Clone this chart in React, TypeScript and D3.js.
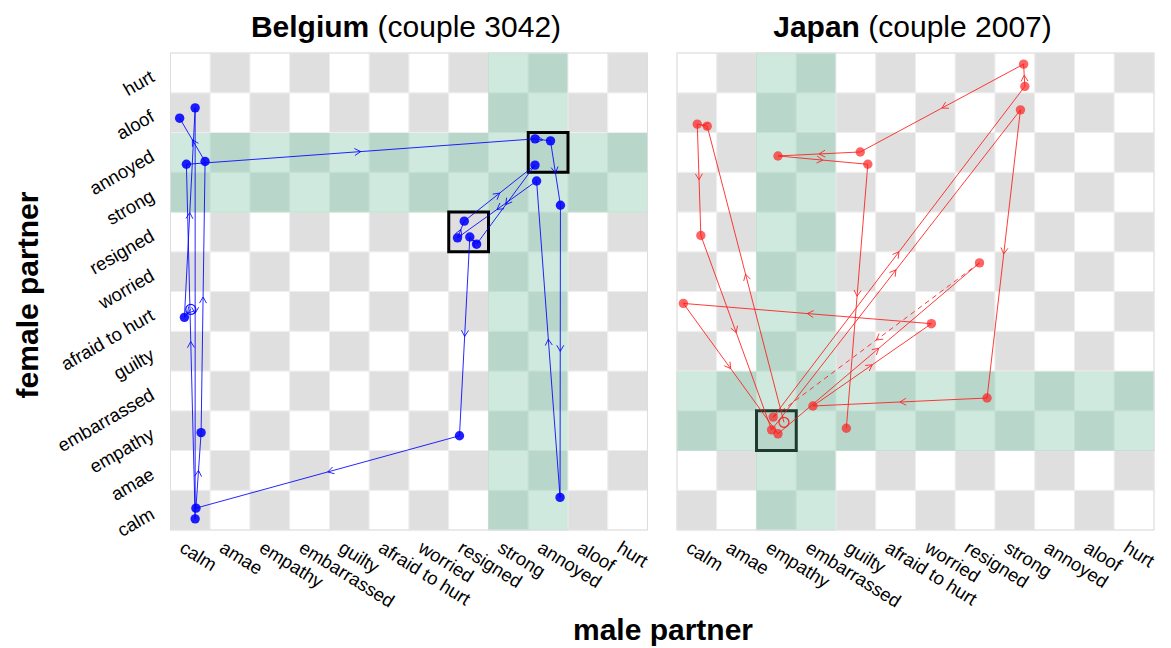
import React from 'react';
import * as d3 from 'd3';

const CATS = ['calm', 'amae', 'empathy', 'embarrassed', 'guilty', 'afraid to hurt', 'worried', 'resigned', 'strong', 'annoyed', 'aloof', 'hurt'];

// Belgium (couple 3042): trajectory of [male, female] emotion, in category units
const beMale = [0.01, -0.15, 0.12, 0.12, -0.10, 8.67, 9.06, 9.31, 9.30, 8.71, 6.72, 6.89, 8.67, 7.20, 7.03, 6.77, 0.14, 0.27, 0.37, -0.27];
const beFemale = [5.05, 4.85, 10.12, -0.22, 8.70, 9.34, 9.29, 7.67, 0.32, 8.28, 6.85, 7.27, 8.68, 6.69, 6.87, 1.87, 0.05, 1.95, 8.77, 9.86];
const beHiCols = [8, 9];
const beHiRows = [8, 9];
const beBoxes = [[9, 9], [7, 7]];

// Japan (couple 2007)
const jpMale = [2.19, 0.26, 0.01, 0.10, 1.88, 8.14, 7.30, 2.92, 5.90, -0.34, 2.04, 7.11, 1.92, 8.25, 8.22, 4.11, 2.04, 4.30, 3.76];
const jpFemale = [2.21, 9.66, 9.71, 6.91, 2.02, 10.07, 2.82, 2.62, 4.69, 5.20, 1.92, 6.22, 2.34, 10.66, 11.22, 9.01, 8.91, 8.70, 2.06];
const jpDashed = [11];
const jpHiCols = [2, 3];
const jpHiRows = [2, 3];
const jpBoxes = [[2, 2]];

const FONT = '"Liberation Sans", Arial, sans-serif';
const TOP = 53;
const SIZE = 477;
const N = CATS.length;

function Panel({ x0, male, female, dashed, hiCols, hiRows, boxes, color, boxColor, title, sub, showY }) {
  const x = d3.scaleLinear().domain([-0.5, N - 0.5]).range([x0, x0 + SIZE]);
  const y = d3.scaleLinear().domain([-0.5, N - 0.5]).range([TOP + SIZE, TOP]);
  const cw = x(1) - x(0);
  const ch = y(0) - y(1);

  const cells = [];
  for (let c = 0; c < N; c++) {
    for (let r = 0; r < N; r++) {
      const dark = (c + (N - 1 - r)) % 2 === 1;
      const hi = hiCols.includes(c) || hiRows.includes(r);
      const fill = hi ? (dark ? '#b9d6ca' : '#cfe9de') : (dark ? '#dfdfdf' : '#ffffff');
      cells.push(
        <rect key={`${c}-${r}`} x={x(c - 0.5)} y={y(r + 0.5)} width={cw} height={ch}
          fill={fill} stroke={hi ? '#c4e0d3' : '#eeeeee'} strokeWidth={1} />
      );
    }
  }

  const pts = male.map((m, i) => [x(m), y(female[i])]);
  const segs = d3.pairs(pts).map(([a, b], i) => {
    const mx = (a[0] + b[0]) / 2;
    const my = (a[1] + b[1]) / 2;
    const th = Math.atan2(b[1] - a[1], b[0] - a[0]);
    const L = 7, phi = Math.PI / 6;
    const arrow = `M${mx - L * Math.cos(th - phi)},${my - L * Math.sin(th - phi)}L${mx},${my}L${mx - L * Math.cos(th + phi)},${my - L * Math.sin(th + phi)}`;
    return { a, b, arrow, dash: dashed.includes(i) };
  });

  return (
    <g>
      {cells}
      <rect x={x0} y={TOP} width={SIZE} height={SIZE} fill="none" stroke="#dddddd" strokeWidth={1} />
      {boxes.map(([c, r], i) => (
        <rect key={i} x={x(c - 0.5)} y={y(r + 0.5)} width={cw} height={ch}
          fill="none" stroke={boxColor} strokeWidth={3} />
      ))}
      {segs.map((s, i) => (
        <g key={i} stroke={color} strokeOpacity={0.85} strokeWidth={1} fill="none">
          <line x1={s.a[0]} y1={s.a[1]} x2={s.b[0]} y2={s.b[1]} strokeDasharray={s.dash ? '5,4' : undefined} />
          <path d={s.arrow} />
        </g>
      ))}
      {pts.map((p, i) => i === 0 ? (
        <circle key={i} cx={p[0]} cy={p[1]} r={5} fill="none" stroke={color} strokeWidth={1.3} strokeOpacity={0.9} />
      ) : (
        <circle key={i} cx={p[0]} cy={p[1]} r={4.7} fill={color} fillOpacity={color === 'blue' ? 0.88 : 0.68} />
      ))}
      <text x={x0 + SIZE / 2 - 3} y={37} textAnchor="middle" fontFamily={FONT} fontSize={30} fill="#000">
        <tspan fontWeight="bold">{title}</tspan> {sub}
      </text>
      {CATS.map((cat, i) => (
        <text key={`x${i}`} transform={`translate(${x(i) - 5},${TOP + SIZE + 10}) rotate(32)`}
          fontFamily={FONT} fontSize={18.5} dy="0.7em" fill="#000">{cat}</text>
      ))}
      {showY && CATS.map((cat, i) => (
        <text key={`y${i}`} transform={`translate(${x0 - 18},${y(i) + 2}) rotate(-30)`}
          fontFamily={FONT} fontSize={18.5} textAnchor="end" dy="0.35em" fill="#000">{cat}</text>
      ))}
    </g>
  );
}

export default function App() {
  return (
    <svg width={1171} height={648} style={{ position: 'absolute', left: 0, top: 0, background: '#fff' }}>
      <Panel x0={170.5} male={beMale} female={beFemale} dashed={[]} hiCols={beHiCols} hiRows={beHiRows}
        boxes={beBoxes} color="blue" boxColor="#000" title="Belgium" sub="(couple 3042)" showY />
      <Panel x0={677} male={jpMale} female={jpFemale} dashed={jpDashed} hiCols={jpHiCols} hiRows={jpHiRows}
        boxes={jpBoxes} color="#ff1a1a" boxColor="#1e3a2e" title="Japan" sub="(couple 2007)" showY={false} />
      <text transform="translate(38,295) rotate(-90)" textAnchor="middle" fontFamily={FONT}
        fontSize={30} fontWeight="bold">female partner</text>
      <text x={663} y={640} textAnchor="middle" fontFamily={FONT} fontSize={30} fontWeight="bold">male partner</text>
    </svg>
  );
}
